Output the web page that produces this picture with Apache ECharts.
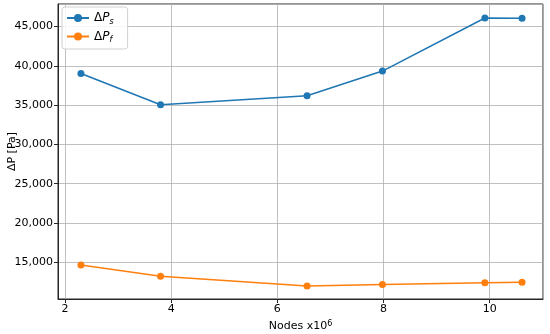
<!DOCTYPE html>
<html><head><meta charset="utf-8">
<script src="https://cdn.jsdelivr.net/npm/echarts@6/dist/echarts.min.js"></script>
<style>html,body{margin:0;padding:0;background:#fff}#c{width:550px;height:334px}</style>
</head><body><div id="c"></div>
<script>
const nodes = [2.3, 3.8, 6.56, 7.98, 9.91, 10.61];
const dPs = [39020, 35040, 36180, 39330, 46080, 46050];
const dPf = [14660, 13230, 12000, 12170, 12420, 12470];
const seriesNames = ['ΔPs', 'ΔPf'];
const xTitle = 'Nodes x10';
const xTitleSup = '6';
const yTitle = 'ΔP [Pa]';

const font = 'DejaVu Sans';
const chart = echarts.init(document.getElementById('c'));
function pairs(xs, ys){ return xs.map((x,i)=>[x, ys[i]]); }
chart.setOption({
  animation:false,
  textStyle:{fontFamily:font},
  grid:{left:58,right:7,top:4,bottom:35,show:true,borderColor:'#262626',borderWidth:1,containLabel:false,outerBoundsMode:'none'},
  legend:{
    orient:'vertical', left:62, top:7, padding:[5,14,5,4], itemGap:5,
    backgroundColor:'rgba(255,255,255,0.85)', borderColor:'#d0d0d0', borderWidth:1, borderRadius:3,
    itemWidth:22, itemHeight:10,
    data:seriesNames.map(n=>({name:n})),
    formatter:function(n){ return '{d|Δ}{p|P}{s|'+n.slice(2)+'}'; },
    textStyle:{fontFamily:font, color:'#000', fontSize:12,
      rich:{d:{fontSize:12,fontFamily:font,color:'#000'},p:{fontSize:12,fontStyle:'italic',fontFamily:font,color:'#000'},s:{fontSize:8,fontStyle:'italic',fontFamily:font,color:'#000',verticalAlign:'bottom',padding:[7,0,0,0]}}}
  },
  xAxis:{type:'value',min:1.868,max:11.005,splitNumber:5,minInterval:2,maxInterval:2,
    name:'{a|'+xTitle+'}{b|'+xTitleSup+'}',nameLocation:'middle',nameGap:21,nameMoveOverlap:false,
    nameTextStyle:{fontSize:11,color:'#000',fontFamily:font,
      rich:{a:{fontSize:11,color:'#000',fontFamily:font},b:{fontSize:8,color:'#000',fontFamily:font,verticalAlign:'top',padding:[0,0,5,0]}}},
    axisLine:{show:true,lineStyle:{color:'#262626',width:1}},
    axisTick:{show:true,length:4,lineStyle:{color:'#262626'}},
    axisLabel:{fontSize:11,color:'#000',margin:5,showMinLabel:false,showMaxLabel:false,fontFamily:font},
    splitLine:{show:true,lineStyle:{color:'#b0b0b0',width:0.8}}},
  yAxis:{type:'value',min:10340,max:47857,splitNumber:8,minInterval:5000,maxInterval:5000,
    name:yTitle,nameLocation:'middle',nameGap:40,nameRotate:90,nameMoveOverlap:false,nameTextStyle:{fontSize:11,color:'#000',fontFamily:font},
    axisLine:{show:true,lineStyle:{color:'#262626',width:1}},
    axisTick:{show:true,length:4,lineStyle:{color:'#262626'}},
    axisLabel:{fontSize:11,color:'#000',margin:5,showMinLabel:false,showMaxLabel:false,fontFamily:font,
      formatter:v=>v.toLocaleString('en-US')},
    splitLine:{show:true,lineStyle:{color:'#b0b0b0',width:0.8}}},
  series:[
    {name:seriesNames[0],type:'line',data:pairs(nodes,dPs),symbol:'circle',symbolSize:7,
      lineStyle:{color:'#1f77b4',width:1.5},itemStyle:{color:'#1f77b4'}},
    {name:seriesNames[1],type:'line',data:pairs(nodes,dPf),symbol:'circle',symbolSize:7,
      lineStyle:{color:'#ff7f0e',width:1.5},itemStyle:{color:'#ff7f0e'}}
  ]
});
</script></body></html>
